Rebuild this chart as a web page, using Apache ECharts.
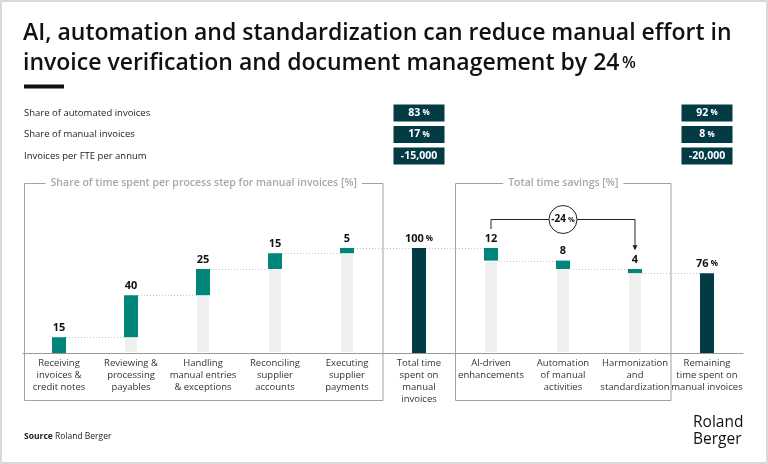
<!DOCTYPE html>
<html lang="en">
<head>
<meta charset="UTF-8">
<title>Manual effort reduction</title>
<style>
  html, body { margin: 0; padding: 0; background: #fff; }
  #main { width: 768px; height: 464px; }
</style>
</head>
<body>
<div id="main"></div>
<script src="https://cdn.jsdelivr.net/npm/echarts@6/dist/echarts.min.js"></script>
<script>
// --- data ---
var categories = [
    'Receiving\ninvoices &\ncredit notes',
    'Reviewing &\nprocessing\npayables',
    'Handling\nmanual entries\n& exceptions',
    'Reconciling\nsupplier\naccounts',
    'Executing\nsupplier\npayments',
    'Total time\nspent on\nmanual\ninvoices',
    'AI-driven\nenhancements',
    'Automation\nof manual\nactivities',
    'Harmonization\nand\nstandardization',
    'Remaining\ntime spent on\nmanual invoices'
];
var baseValues = ['-', 15, 55, 80, 95, '-', 88, 80, 76, '-'];
var stepValues = [15, 40, 25, 15, 5, '-', 12, 8, 4, '-'];
var totalValues = ['-', '-', '-', '-', '-', 100, '-', '-', '-', 76];
// level of the dotted line running from bar i to bar i+1
var connectorLevels = [15, 55, 80, 95, 100, 100, 88, 80, 76];

var tableLabels = ['Share of automated invoices', 'Share of manual invoices', 'Invoices per FTE per annum'];
var tableNow = ['83 %', '17 %', '-15,000'];
var tableAfter = ['92 %', '8 %', '-20,000'];
var savingLabel = '-24 %';

var titleLines = [
    'AI, automation and standardization can reduce manual effort in',
    'invoice verification and document management by 24 %'
];

var FONT = "'Open Sans', sans-serif";
var TEAL = '#00857b';
var DARK = '#033b45';

function pct(text) {
    // render "83 %" with a smaller percent sign
    if (text.indexOf('%') < 0) return '{v|' + text + '}';
    return '{v|' + text.replace(' %', '') + '}{p| %}';
}

var chart = echarts.init(document.getElementById('main'));

chart.setOption({
    backgroundColor: '#fff',
    animation: false,
    grid: { left: 23, right: 25, top: 248, bottom: 111 },
    xAxis: {
        type: 'category',
        data: categories,
        axisLine: { lineStyle: { color: '#9a9a9a', width: 1 } },
        axisTick: { show: false },
        axisLabel: {
            interval: 0,
            margin: 4,
            color: '#333',
            fontFamily: FONT,
            fontSize: 9.5,
            lineHeight: 12
        }
    },
    yAxis: { type: 'value', min: 0, max: 100, show: false },
    series: [
        {
            type: 'custom',
            z: 1,
            renderItem: function (params, api) {
                var i = api.value(0), lvl = api.value(1);
                var p1 = api.coord([i, lvl]);
                var p2 = api.coord([i + 1, lvl]);
                var y = Math.round(p1[1]) + 0.5;
                return {
                    type: 'line',
                    shape: { x1: p1[0] + 7, y1: y, x2: p2[0] - 7, y2: y },
                    style: { stroke: '#c4c4c4', lineWidth: 1, lineDash: [1, 2] }
                };
            },
            data: connectorLevels.map(function (v, i) { return [i, v]; })
        },
        {
            type: 'bar', stack: 'wf', barWidth: 14,
            itemStyle: { color: '#efefef', borderColor: '#fff', borderWidth: 1 },
            data: baseValues
        },
        {
            type: 'bar', stack: 'wf', barWidth: 14,
            itemStyle: { color: TEAL },
            label: {
                show: true, position: 'top', distance: 4,
                color: '#111', fontFamily: FONT, fontSize: 11, fontWeight: 'bold'
            },
            data: stepValues
        },
        {
            type: 'bar', stack: 'wf', barWidth: 14,
            itemStyle: { color: DARK },
            label: {
                show: true, position: 'top', distance: 4,
                formatter: function (p) { return pct(p.value + ' %'); },
                rich: {
                    v: { color: '#111', fontFamily: FONT, fontSize: 11, fontWeight: 'bold' },
                    p: { color: '#111', fontFamily: FONT, fontSize: 8, fontWeight: 'bold' }
                }
            },
            data: totalValues
        }
    ]
});

// --- annotations placed through the chart's own scales ---
function px(cat, val) { return chart.convertToPixel({ gridIndex: 0 }, [cat, val]); }

var els = [];

// outer border
els.push({ type: 'rect', shape: { x: 1, y: 1, width: 766, height: 462 },
    style: { fill: null, stroke: '#dadada', lineWidth: 2 }, silent: true });

// title
titleLines.forEach(function (t, i) {
    var txt = t.indexOf('%') >= 0 ? t.replace(' %', '') + '{p|\u2009%}' : t;
    els.push({ type: 'text', x: 23, y: 33 + i * 30,
        style: { text: txt, fill: '#111', font: '600 23px ' + FONT, verticalAlign: 'middle',
            rich: { p: { fill: '#111', font: '600 16px ' + FONT } } } });
});
els.push({ type: 'rect', shape: { x: 24, y: 84.5, width: 40, height: 4 }, style: { fill: '#111' } });

// table rows
var rowY = [113, 134.5, 156];
var colNow = px(5, 0)[0], colAfter = px(9, 0)[0];
var boxRich = {
    v: { fill: '#fff', font: 'bold 10.5px ' + FONT },
    p: { fill: '#fff', font: 'bold 8px ' + FONT }
};
tableLabels.forEach(function (lab, i) {
    els.push({ type: 'text', x: 24, y: rowY[i],
        style: { text: lab, fill: '#222', font: '9.5px ' + FONT, verticalAlign: 'middle' } });
    [[colNow, tableNow[i]], [colAfter, tableAfter[i]]].forEach(function (c) {
        els.push({ type: 'rect', shape: { x: c[0] - 25.5, y: rowY[i] - 8.5, width: 51, height: 17 },
            style: { fill: DARK } });
        els.push({ type: 'text', x: c[0], y: rowY[i],
            style: { text: pct(c[1]), align: 'center', verticalAlign: 'middle', rich: boxRich } });
    });
});

// frames around the process steps and the savings
function frame(x1, x2, title) {
    els.push({ type: 'rect', shape: { x: x1, y: 183.5, width: x2 - x1, height: 217 },
        style: { fill: null, stroke: '#a3a3a3', lineWidth: 1 } });
    els.push({ type: 'text', x: (x1 + x2) / 2, y: 183.5,
        style: { text: title, fill: '#a8a8a8', font: '600 10.5px ' + FONT, align: 'center',
            verticalAlign: 'middle', backgroundColor: '#fff', padding: [0, 5] } });
}
var band = px(1, 0)[0] - px(0, 0)[0];
frame(px(0, 0)[0] - band / 2 + 1.5, px(4, 0)[0] + band / 2, 'Share of time spent per process step for manual invoices [%]');
frame(px(6, 0)[0] - band / 2 + 0.5, px(8, 0)[0] + band / 2, 'Total time savings [%]');

// -24 % bracket from AI-driven to harmonization
var pL = px(6, 100), pR = px(8, 76), pM = px(7, 100);
var yb = Math.round(pL[1] - 29) + 0.5;
els.push({ type: 'polyline', shape: { points: [[pL[0], pL[1] - 19], [pL[0], yb], [pR[0], yb], [pR[0], pR[1] - 24]] },
    style: { fill: null, stroke: '#222', lineWidth: 1 } });
els.push({ type: 'polygon', shape: { points: [[pR[0] - 2.5, pR[1] - 28], [pR[0] + 2.5, pR[1] - 28], [pR[0], pR[1] - 23]] },
    style: { fill: '#222' } });
els.push({ type: 'circle', shape: { cx: pM[0], cy: yb, r: 14 },
    style: { fill: '#fff', stroke: '#222', lineWidth: 1 } });
els.push({ type: 'text', x: pM[0], y: yb,
    style: { text: pct(savingLabel), align: 'center', verticalAlign: 'middle',
        rich: { v: { fill: '#111', font: 'bold 10px ' + FONT }, p: { fill: '#111', font: 'bold 7.5px ' + FONT } } } });

// footer
els.push({ type: 'text', x: 24, y: 437,
    style: { text: '{b|Source} Roland Berger', fill: '#222', font: '8.5px ' + FONT, verticalAlign: 'middle',
        rich: { b: { fill: '#222', font: 'bold 8.5px ' + FONT } } } });
els.push({ type: 'text', x: 693, y: 431,
    style: { text: 'Roland\nBerger', fill: '#111', font: '500 15.5px ' + FONT, lineHeight: 17,
        verticalAlign: 'middle' } });

chart.setOption({ graphic: { elements: els } });
</script>
</body>
</html>
